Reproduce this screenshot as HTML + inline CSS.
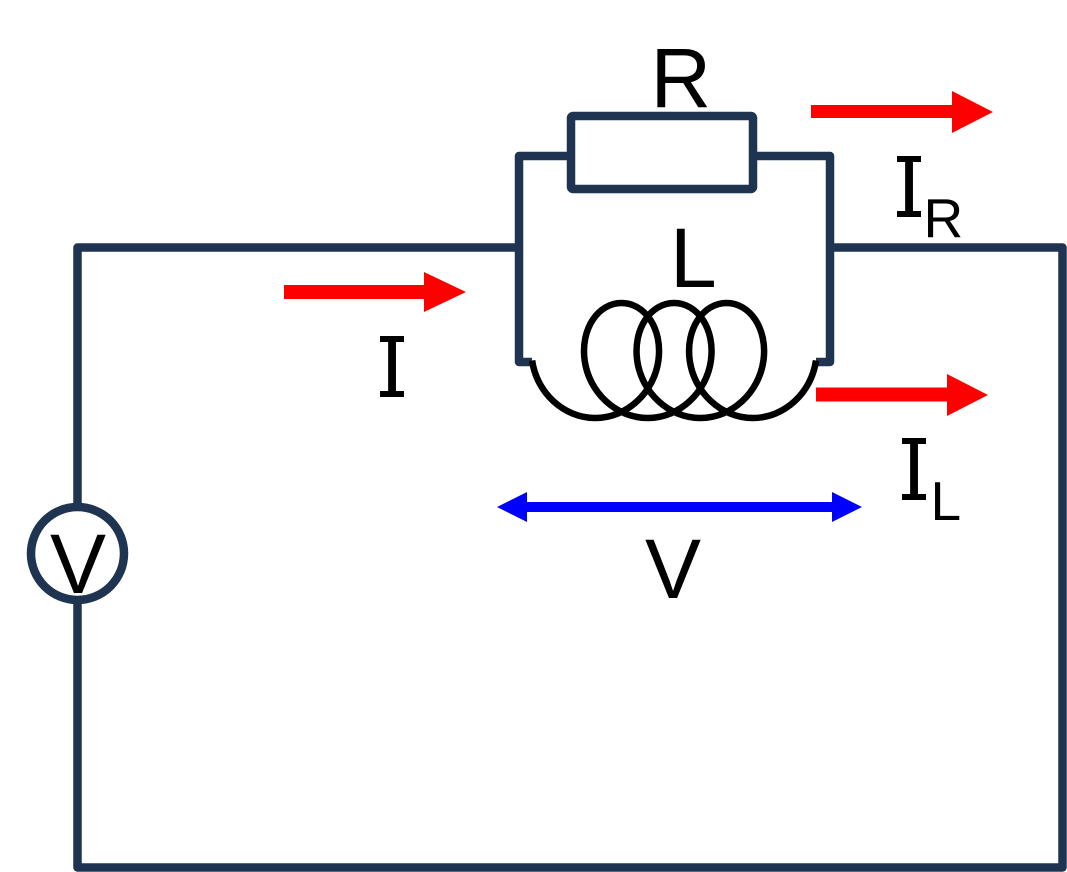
<!DOCTYPE html>
<html>
<head>
<meta charset="utf-8">
<style>
html,body{margin:0;padding:0;background:#fff;}
svg{display:block;}
text{font-family:"Liberation Sans",Arial,sans-serif;fill:#000;}
</style>
</head>
<body>
<svg width="1067" height="872" viewBox="0 0 1067 872" xmlns="http://www.w3.org/2000/svg">
  <rect x="0" y="0" width="1067" height="872" fill="#fff"/>

  <!-- outer circuit -->
  <path d="M519,247.5 H77.5 V867.5 H1062.5 V247.5 H830" fill="none" stroke="#1f3450" stroke-width="8.5" stroke-linejoin="round"/>

  <!-- parallel box -->
  <path d="M571,156 H519 V362 H532" fill="none" stroke="#1f3450" stroke-width="8.5" stroke-linejoin="round"/>
  <path d="M753,156 H830 V362 H816" fill="none" stroke="#1f3450" stroke-width="8.5" stroke-linejoin="round"/>
  <!-- resistor -->
  <rect x="571" y="116" width="182" height="73" rx="2" fill="#fff" stroke="#1f3450" stroke-width="8.5"/>

  <!-- coil -->
  <path d="M532.13,360.5
    C536.51,392.26 563.26,418 595.26,418
    C627.26,418 654.02,392.26 658.40,360.5
    C662.78,328.74 644.77,303 621.53,303
    C598.29,303 580.28,328.74 584.66,360.5
    C589.04,392.26 615.79,418 647.79,418
    C679.79,418 706.54,392.26 710.92,360.5
    C715.30,328.74 697.30,303 674.06,303
    C650.82,303 632.81,328.74 637.19,360.5
    C641.57,392.26 668.32,418 700.32,418
    C732.32,418 759.07,392.26 763.45,360.5
    C767.83,328.74 749.82,303 726.58,303
    C703.34,303 685.34,328.74 689.72,360.5
    C694.10,392.26 720.85,418 752.85,418
    C784.85,418 811.60,392.26 815.98,360.5"
    fill="none" stroke="#000" stroke-width="6.5"/>

  <!-- voltmeter -->
  <circle cx="77.5" cy="553.5" r="46.5" fill="#fff" stroke="#1f3450" stroke-width="8.5"/>
  <text x="50" y="593" font-size="84">V</text>

  <!-- labels -->
  <text x="650.5" y="107" font-size="84">R</text>
  <text x="670" y="287" font-size="84">L</text>
  <text x="645" y="598" font-size="84">V</text>

  <!-- I (left) -->
  <text x="392" y="397" font-size="84" text-anchor="middle">I</text>
  <rect x="380" y="336" width="24" height="6" fill="#000"/>
  <rect x="380" y="391" width="24" height="6" fill="#000"/>

  <!-- I_R -->
  <text x="909" y="217" font-size="84" text-anchor="middle">I</text>
  <rect x="897" y="156" width="24" height="6" fill="#000"/>
  <rect x="897" y="211" width="24" height="6" fill="#000"/>
  <text x="923.5" y="237" font-size="55">R</text>

  <!-- I_L -->
  <text x="914" y="500" font-size="84" text-anchor="middle">I</text>
  <rect x="902" y="438" width="24" height="6" fill="#000"/>
  <rect x="902" y="494" width="24" height="6" fill="#000"/>
  <text x="930.5" y="520" font-size="55">L</text>

  <!-- red arrows -->
  <rect x="811" y="105" width="142" height="13" fill="#ff0000"/>
  <polygon points="952,91 993,112 952,133" fill="#ff0000"/>

  <rect x="816" y="387.5" width="132" height="14" fill="#ff0000"/>
  <polygon points="947,374 988,395 947,416" fill="#ff0000"/>

  <rect x="284" y="285" width="141" height="14" fill="#ff0000"/>
  <polygon points="424,272 466,292 424,312" fill="#ff0000"/>

  <!-- blue double arrow -->
  <rect x="526" y="502" width="307" height="10" fill="#0000ff"/>
  <polygon points="497,507 527,492 527,522" fill="#0000ff"/>
  <polygon points="862,507 832,492 832,522" fill="#0000ff"/>
</svg>
</body>
</html>
